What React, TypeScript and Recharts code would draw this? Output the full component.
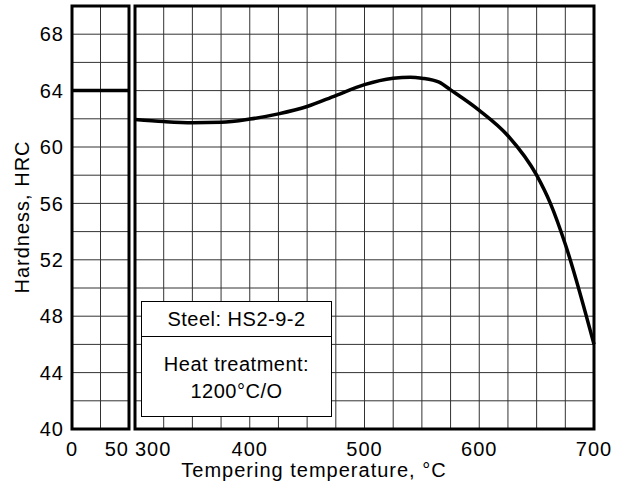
import { LineChart, Line, XAxis, YAxis, CartesianGrid, ReferenceArea } from 'recharts';

// hardness after hardening (left panel, 0-50 °C)
const asQuenchedTemp = [0, 50];
const asQuenchedHrc = [64, 64];

// tempering curve (right panel)
const temperTemp = [300, 325, 350, 375, 400, 425, 450, 475, 500, 525, 540, 550, 565, 575, 600, 625, 650, 662, 675, 700];
const temperHrc = [61.95, 61.8, 61.72, 61.75, 61.98, 62.35, 62.87, 63.65, 64.42, 64.87, 64.95, 64.88, 64.6, 64.05, 62.6, 60.8, 58.0, 56.0, 53.1, 46.0];

const yGridTicks = [40, 42, 44, 46, 48, 50, 52, 54, 56, 58, 60, 62, 64, 66, 68, 70];
const yTickLabels = [40, 44, 48, 52, 56, 60, 64, 68];
const leftGridTicks = [0, 25, 50];
const leftTickLabels = [0, 50];
const rightGridTicks = [300, 325, 350, 375, 400, 425, 450, 475, 500, 525, 550, 575, 600, 625, 650, 675, 700];
const rightTickLabels = [300, 400, 500, 600, 700];

const leftData = asQuenchedTemp.map((t, i) => ({ t, hrc: asQuenchedHrc[i] }));
const rightData = temperTemp.map((t, i) => ({ t, hrc: temperHrc[i] }));

const FONT = '"Liberation Sans", Arial, Helvetica, sans-serif';
const tickStyle = { fontSize: 20, fill: '#000', fontFamily: FONT, letterSpacing: 1 };

const makeXTick = (labels: number[], lo: number, hi: number) => (props: any) => {
  const { x, y, payload } = props;
  const v = payload.value;
  if (!labels.includes(v)) return <g />;
  let anchor: 'start' | 'middle' | 'end' = 'middle';
  let dx = 0;
  if (v === 300 && lo === 300) { anchor = 'start'; dx = 0; }
  if (v === 50 && hi === 50) { anchor = 'end'; dx = 0; }
  return (
    <text x={x + dx} y={y + 19} textAnchor={anchor} style={tickStyle}>
      {v}
    </text>
  );
};

export default function App() {
  return (
    <div style={{ position: 'absolute', left: 0, top: 0, width: 631, height: 494, background: '#fff', fontFamily: FONT }}>
      <div style={{ position: 'absolute', left: 0, top: 0 }}>
        <LineChart width={140} height={494} data={leftData} margin={{ top: 6, right: 11, bottom: 35, left: 0 }}>
          <CartesianGrid stroke="#333" strokeWidth={1} />
          <XAxis
            dataKey="t"
            type="number"
            domain={[0, 50]}
            ticks={leftGridTicks}
            axisLine={false}
            tickLine={false}
            interval={0}
            height={30}
            tick={makeXTick(leftTickLabels, 0, 50)}
          />
          <YAxis
            type="number"
            domain={[40, 70]}
            ticks={yGridTicks}
            interval={0}
            width={72}
            axisLine={false}
            tickLine={false}
            tickFormatter={(v: number) => (yTickLabels.includes(v) ? String(v) : '')}
            tick={tickStyle}
          />
          <ReferenceArea x1={0} x2={50} y1={40} y2={70} fill="none" stroke="#000" strokeWidth={3} />
          <Line dataKey="hrc" stroke="#000" strokeWidth={3.5} dot={false} isAnimationActive={false} />
        </LineChart>
      </div>
      <div style={{ position: 'absolute', left: 129, top: 0 }}>
        <LineChart width={502} height={494} data={rightData} margin={{ top: 6, right: 37, bottom: 35, left: 6 }}>
          <CartesianGrid stroke="#333" strokeWidth={1} />
          <XAxis
            dataKey="t"
            type="number"
            domain={[300, 700]}
            ticks={rightGridTicks}
            axisLine={false}
            tickLine={false}
            interval={0}
            height={30}
            tick={makeXTick(rightTickLabels, 300, 700)}
          />
          <YAxis type="number" domain={[40, 70]} ticks={yGridTicks} interval={0} hide />
          <ReferenceArea x1={300} x2={700} y1={40} y2={70} fill="none" stroke="#000" strokeWidth={3} />
          <Line type="monotone" dataKey="hrc" stroke="#000" strokeWidth={3.5} dot={false} isAnimationActive={false} />
        </LineChart>
      </div>
      <div
        style={{
          position: 'absolute',
          left: 141,
          top: 301,
          width: 191,
          height: 116,
          boxSizing: 'border-box',
          border: '1.5px solid #000',
          background: '#fff',
          fontSize: 20,
          letterSpacing: 0.5,
          textAlign: 'center',
          color: '#000',
        }}
      >
        <div style={{ height: 34, lineHeight: '34px', borderBottom: '1.5px solid #000' }}>Steel: HS2-9-2</div>
        <div style={{ paddingTop: 14, lineHeight: '27px' }}>
          Heat treatment:
          <br />
          1200°C/O
        </div>
      </div>
      <div
        style={{
          position: 'absolute',
          left: 22,
          top: 217,
          transform: 'translate(-50%, -50%) rotate(-90deg)',
          whiteSpace: 'nowrap',
          fontSize: 20,
          letterSpacing: 1,
          color: '#000',
        }}
      >
        Hardness, HRC
      </div>
      <div
        style={{
          position: 'absolute',
          left: 314,
          top: 470,
          transform: 'translate(-50%, -50%)',
          whiteSpace: 'nowrap',
          fontSize: 20,
          letterSpacing: 1,
          color: '#000',
        }}
      >
        Tempering temperature, °C
      </div>
    </div>
  );
}
